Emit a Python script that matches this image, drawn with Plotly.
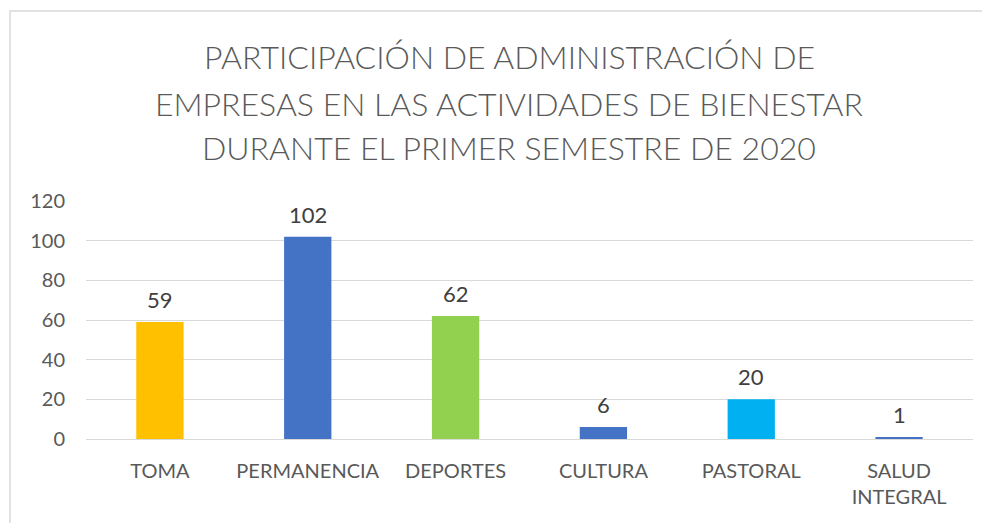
import plotly.graph_objects as go

categories = ["TOMA", "PERMANENCIA", "DEPORTES", "CULTURA", "PASTORAL", "SALUD<br>INTEGRAL"]
values = [59, 102, 62, 6, 20, 1]
bar_colors = ["#FFC000", "#4472C4", "#92D050", "#4472C4", "#00B0F0", "#4472C4"]
y_ticks = [0, 20, 40, 60, 80, 100, 120]
title_lines = [
    "PARTICIPACIÓN DE ADMINISTRACIÓN DE",
    "EMPRESAS EN LAS ACTIVIDADES DE BIENESTAR",
    "DURANTE EL PRIMER SEMESTRE DE 2020",
]

FONT = "Lato"
GRAY = "#595959"

# page offset of 8px (body margin); plot area target in page px: x 86..973, y 201..439
PX_TOP, PX_BOT, PX_L, PX_R = 201, 439, 86, 973
H = PX_BOT - PX_TOP
W = PX_R - PX_L

fig = go.Figure(go.Bar(
    x=categories, y=values,
    marker=dict(color=bar_colors, line=dict(width=0)),
    width=0.32,
    cliponaxis=False,
))

for c, v in zip(categories, values):
    fig.add_annotation(x=c, y=v, text=str(v), showarrow=False, yanchor="bottom",
                       yshift=7, font=dict(family=FONT, size=22, color="#404040"))

for line, py in zip(title_lines, [57, 103, 148]):
    fig.add_annotation(text=line, xref="paper", yref="paper",
                       x=(509 - PX_L) / W, y=1 + (PX_TOP - py) / H,
                       xanchor="center", yanchor="middle", showarrow=False,
                       font=dict(family=FONT, size=32, color=GRAY, weight=300))

fig.update_layout(
    width=982, height=515,
    paper_bgcolor="white", plot_bgcolor="white",
    margin=dict(l=PX_L - 8, r=982 - (PX_R - 8), t=PX_TOP - 8, b=515 - (PX_BOT - 8)),
    showlegend=False,
)
fig.update_yaxes(
    range=[0, 120], tickvals=y_ticks, showgrid=True, gridcolor="#D9D9D9", gridwidth=1,
    zeroline=True, zerolinecolor="#D9D9D9", zerolinewidth=1,
    tickfont=dict(family=FONT, size=20, color=GRAY), ticks="", ticklabelstandoff=20,
    showline=False,
)
fig.update_xaxes(
    tickfont=dict(family=FONT, size=20, color=GRAY), ticks="", showline=False,
    ticklabelstandoff=18,
)
fig.add_shape(type="rect", xref="paper", yref="paper",
              x0=(10 - PX_L) / W, x1=(1000 - PX_L) / W,
              y0=(PX_BOT - 530) / H, y1=(PX_BOT - 11) / H,
              line=dict(color="#D9D9D9", width=1.5), fillcolor="rgba(0,0,0,0)", layer="below")

fig.write_html("out.html")
